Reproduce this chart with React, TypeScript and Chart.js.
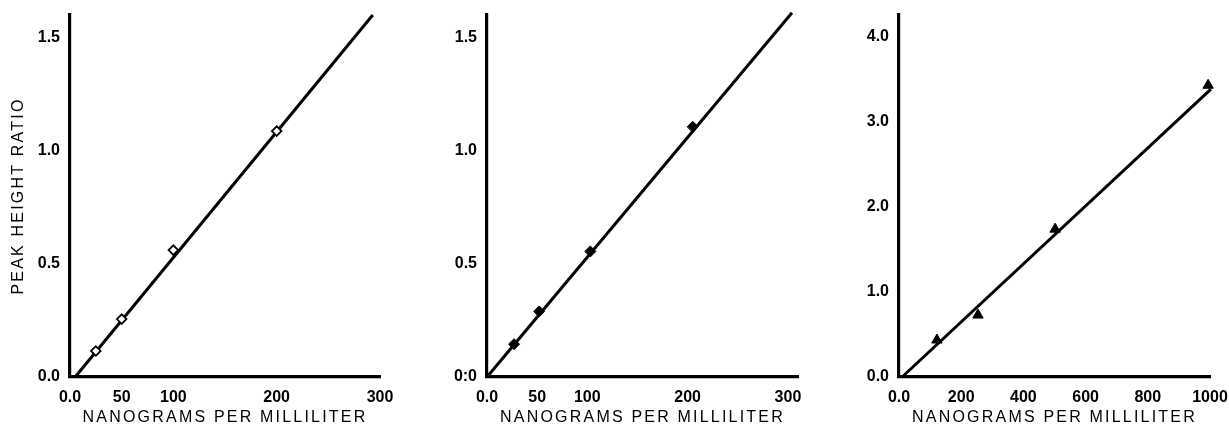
import React, { useEffect, useRef } from 'react';
import { Chart, registerables } from 'chart.js';

Chart.register(...registerables);

const FONT = "'Liberation Sans', Arial, Helvetica, sans-serif";

// ---- Panel A (open diamonds) ----
const aX = [25, 50, 100, 200];
const aY = [0.115, 0.256, 0.561, 1.087];
const aFitX = [5, 293];
const aFitY = [0, 1.6];
const aXTicks = [0, 50, 100, 200, 300];
const aXLabels = ['0.0', '50', '100', '200', '300'];
const aYTicks = [0, 0.5, 1.0, 1.5];
const aYLabels = ['0.0', '0.5', '1.0', '1.5'];

// ---- Panel B (filled diamonds) ----
const bX = [27, 52, 103, 205];
const bY = [0.145, 0.29, 0.555, 1.106];
const bFitX = [0, 304];
const bFitY = [0, 1.61];
const bXTicks = [0, 50, 100, 200, 300];
const bXLabels = ['0.0', '50', '100', '200', '300'];
const bYTicks = [0, 0.5, 1.0, 1.5];
const bYLabels = ['0:0', '0.5', '1.0', '1.5'];

// ---- Panel C (filled triangles) ----
const cX = [122, 254, 502, 994];
const cY = [0.434, 0.727, 1.736, 3.425];
const cFitX = [10, 1003];
const cFitY = [0, 3.38];
const cXTicks = [0, 200, 400, 600, 800, 1000];
const cXLabels = ['0.0', '200', '400', '600', '800', '1000'];
const cYTicks = [0, 1, 2, 3, 4];
const cYLabels = ['0.0', '1.0', '2.0', '3.0', '4.0'];

const X_TITLE = 'NANOGRAMS PER MILLILITER';
const Y_TITLE = 'PEAK HEIGHT RATIO';

function spaceTitle(scale: any) {
  if (scale._lsPatched) return;
  scale._lsPatched = true;
  const orig = scale.drawTitle.bind(scale);
  scale.drawTitle = (...args: any[]) => {
    const ctx: any = scale.ctx;
    const prev = ctx.letterSpacing;
    ctx.letterSpacing = '2.2px';
    orig(...args);
    ctx.letterSpacing = prev || '0px';
  };
}

function noEdgePadding(s: any) {
  s.paddingLeft = 0;
  s.paddingRight = 0;
  s.paddingTop = 0;
  s.paddingBottom = 0;
}

type PanelProps = {
  left: number;
  width: number;
  axisLeft: number;
  padRight: number;
  xs: number[];
  ys: number[];
  fitX: number[];
  fitY: number[];
  xTicks: number[];
  xLabels: string[];
  yTicks: number[];
  yLabels: string[];
  xMax: number;
  yMax: number;
  marker: string;
  filled: boolean;
  radius: number;
  yTitle?: string;
};

function Panel(p: PanelProps) {
  const ref = useRef<HTMLCanvasElement | null>(null);
  useEffect(() => {
    if (!ref.current) return;
    const tickFont = { family: FONT, size: 16, weight: 'bold' as const };
    const titleFont = { family: FONT, size: 16, weight: 'normal' as const };
    const chart = new Chart(ref.current, {
      type: 'scatter',
      data: {
        datasets: [
          {
            data: p.xs.map((x, i) => ({ x, y: p.ys[i] })),
            pointStyle: p.marker as any,
            pointRadius: p.radius,
            pointBackgroundColor: p.filled ? '#000' : '#fff',
            pointBorderColor: '#000',
            pointBorderWidth: p.filled ? 1 : 1.8,
            showLine: false,
            clip: false as any,
            order: 0,
          },
          {
            data: p.fitX.map((x, i) => ({ x, y: p.fitY[i] })),
            showLine: true,
            borderColor: '#000',
            borderWidth: 3,
            pointRadius: 0,
            clip: false as any,
            order: 1,
          },
        ],
      },
      options: {
        responsive: false,
        animation: false,
        events: [],
        layout: { padding: { left: 0, right: p.padRight, top: 15, bottom: 0 } },
        plugins: { legend: { display: false }, tooltip: { enabled: false } },
        scales: {
          x: {
            type: 'linear',
            min: 0,
            max: p.xMax,
            afterBuildTicks: (s: any) => {
              s.ticks = p.xTicks.map((v) => ({ value: v }));
            },
            afterFit: (s: any) => {
              s.height = 51;
              noEdgePadding(s);
              spaceTitle(s);
            },
            ticks: {
              autoSkip: false,
              maxRotation: 0,
              padding: 11,
              color: '#000',
              font: tickFont,
              callback: (v: any) => {
                const i = p.xTicks.indexOf(Number(v));
                return i >= 0 ? p.xLabels[i] : '';
              },
            },
            grid: { display: false, drawTicks: false },
            border: { display: true, color: '#000', width: 3.2 },
            title: {
              display: true,
              text: X_TITLE,
              color: '#000',
              font: titleFont,
              padding: { top: 0, bottom: 1 },
            },
          },
          y: {
            type: 'linear',
            min: 0,
            max: p.yMax,
            afterBuildTicks: (s: any) => {
              s.ticks = p.yTicks.map((v) => ({ value: v }));
            },
            afterFit: (s: any) => {
              s.width = p.axisLeft;
              noEdgePadding(s);
              spaceTitle(s);
            },
            ticks: {
              autoSkip: false,
              padding: 10,
              color: '#000',
              font: tickFont,
              callback: (v: any) => {
                const i = p.yTicks.indexOf(Number(v));
                return i >= 0 ? p.yLabels[i] : '';
              },
            },
            grid: { display: false, drawTicks: false },
            border: { display: true, color: '#000', width: 3.2 },
            title: {
              display: !!p.yTitle,
              text: p.yTitle || '',
              color: '#000',
              font: titleFont,
              padding: { top: 9, bottom: 0 },
            },
          },
        },
      },
    });
    return () => chart.destroy();
  }, []);
  return (
    <canvas
      ref={ref}
      width={p.width}
      height={428}
      style={{ position: 'absolute', left: p.left, top: 0, width: p.width, height: 428, display: 'block' }}
    />
  );
}

export default function App() {
  return (
    <div style={{ position: 'absolute', left: 0, top: 0, width: 1229, height: 428, background: '#fff', overflow: 'hidden' }}>
      <Panel
        left={0}
        width={410}
        axisLeft={70}
        padRight={30}
        xs={aX}
        ys={aY}
        fitX={aFitX}
        fitY={aFitY}
        xTicks={aXTicks}
        xLabels={aXLabels}
        yTicks={aYTicks}
        yLabels={aYLabels}
        xMax={300}
        yMax={1.6}
        marker="rectRot"
        filled={false}
        radius={4.8}
        yTitle={Y_TITLE}
      />
      <Panel
        left={410}
        width={410}
        axisLeft={77}
        padRight={22}
        xs={bX}
        ys={bY}
        fitX={bFitX}
        fitY={bFitY}
        xTicks={bXTicks}
        xLabels={bXLabels}
        yTicks={bYTicks}
        yLabels={bYLabels}
        xMax={310}
        yMax={1.6}
        marker="rectRot"
        filled={true}
        radius={5.5}
      />
      <Panel
        left={820}
        width={409}
        axisLeft={79}
        padRight={19}
        xs={cX}
        ys={cY}
        fitX={cFitX}
        fitY={cFitY}
        xTicks={cXTicks}
        xLabels={cXLabels}
        yTicks={cYTicks}
        yLabels={cYLabels}
        xMax={1000}
        yMax={4.25}
        marker="triangle"
        filled={true}
        radius={6}
      />
    </div>
  );
}
